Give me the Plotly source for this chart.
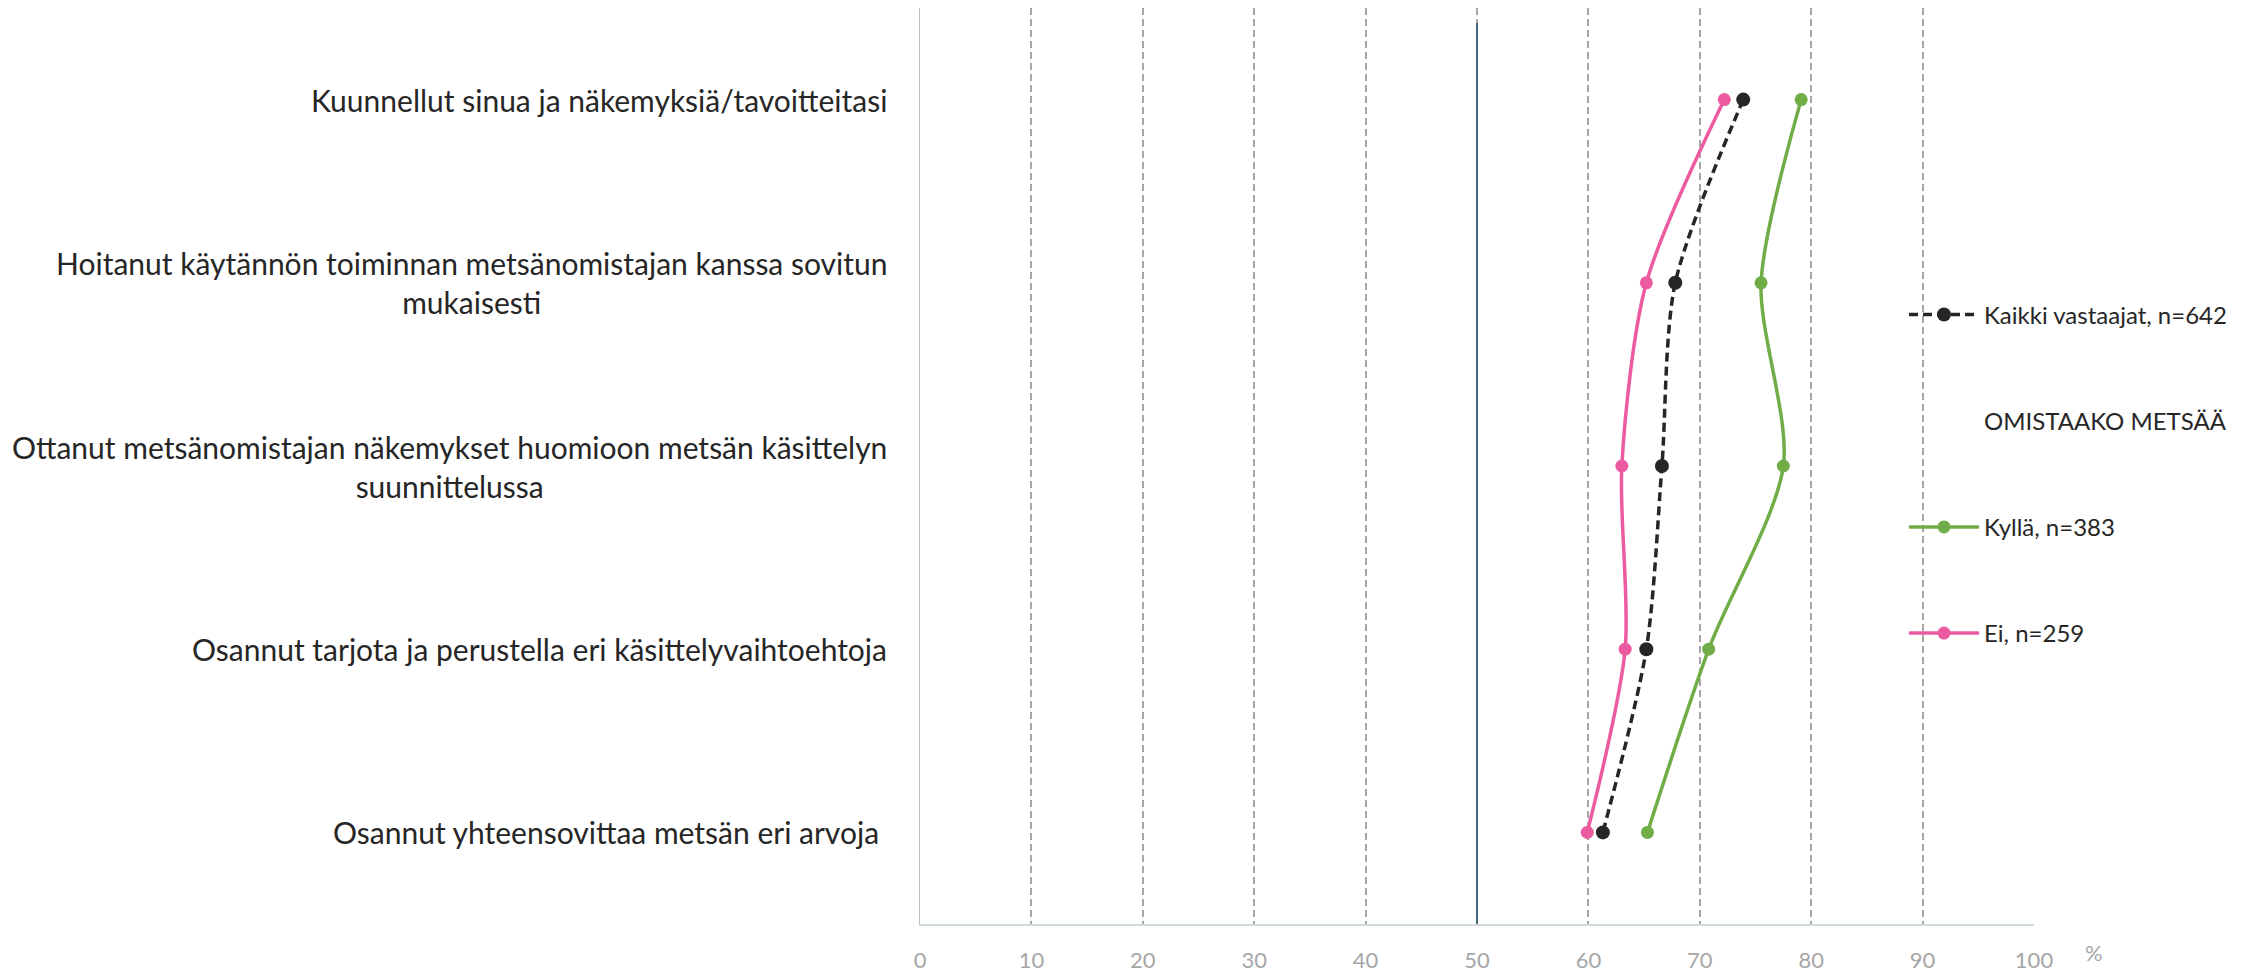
import plotly.graph_objects as go

categories = [
    "Kuunnellut sinua ja näkemyksiä/tavoitteitasi",
    "Hoitanut käytännön toiminnan metsänomistajan kanssa sovitun\nmukaisesti",
    "Ottanut metsänomistajan näkemykset huomioon metsän käsittelyn\nsuunnittelussa",
    "Osannut tarjota ja perustella eri käsittelyvaihtoehtoja",
    "Osannut yhteensovittaa metsän eri arvoja ",
]
kaikki = [73.9, 67.8, 66.6, 65.2, 61.3]
kylla = [79.1, 75.5, 77.5, 70.8, 65.3]
ei = [72.2, 65.2, 63.0, 63.3, 59.9]
x_ticks = [0, 10, 20, 30, 40, 50, 60, 70, 80, 90, 100]

series_names = ["Kaikki vastaajat, n=642", "Kyllä, n=383", "Ei, n=259"]
group_title = "OMISTAAKO METSÄÄ"

cat_keys = [c.replace("\n", " ") for c in categories]

FONT = "Lato"
OFF = 8  # page body margin
W, H = 2265 - OFF, 973 - OFF
L, R, T, B = 920 - OFF, W - (2034 - OFF), 0, H - (926 - OFF)
PW, PH = W - L - R, H - T - B

fig = go.Figure()

fig.add_trace(go.Scatter(
    x=kaikki, y=cat_keys, name=series_names[0], mode="lines+markers",
    line=dict(color="#262626", width=3.5, dash="9px,5px", shape="spline", smoothing=0.8),
    marker=dict(color="#262626", size=14), legendgroup="g1", legendrank=1,
))
fig.add_trace(go.Scatter(
    x=[None], y=[None], name=group_title, mode="lines",
    line=dict(color="rgba(0,0,0,0)", width=0), legendgroup="g2", legendrank=2,
    hoverinfo="skip",
))
fig.add_trace(go.Scatter(
    x=kylla, y=cat_keys, name=series_names[1], mode="lines+markers",
    line=dict(color="#70AD47", width=3.5, shape="spline", smoothing=0.8),
    marker=dict(color="#70AD47", size=13), legendgroup="g3", legendrank=3,
))
fig.add_trace(go.Scatter(
    x=ei, y=cat_keys, name=series_names[2], mode="lines+markers",
    line=dict(color="#EC5BA0", width=3.5, shape="spline", smoothing=0.8),
    marker=dict(color="#EC5BA0", size=13), legendgroup="g4", legendrank=4,
))

# vertical reference line at 50
fig.add_shape(type="line", xref="x", yref="paper", x0=50, x1=50, y0=0,
              y1=(926 - 23) / PH, line=dict(color="#44687A", width=2))

# category labels (centered lines, right-aligned block)
for key, lab in zip(cat_keys, categories):
    fig.add_annotation(
        xref="paper", yref="y", x=0, y=key, xanchor="right", yanchor="middle",
        xshift=-31, align="center", showarrow=False,
        text=lab.replace("\n", "<br>"),
        font=dict(family=FONT, size=30, color="#262626"),
    )

fig.add_annotation(
    xref="paper", yref="paper", x=1, y=0, xanchor="center", yanchor="middle",
    xshift=2094 - 2034, yshift=-(954 - 926), text="%", showarrow=False,
    font=dict(family=FONT, size=22, color="#A6A6A6"),
)

fig.update_xaxes(
    range=[0, 100], tickvals=x_ticks, ticktext=[str(v) for v in x_ticks],
    showgrid=True, gridcolor="#A6A6A6", gridwidth=1.5, griddash="7px,4px",
    zeroline=False, showline=True, linecolor="#D0D9DB", linewidth=2,
    ticks="", tickfont=dict(family=FONT, size=22, color="#A6A6A6"),
    ticklabelstandoff=16, fixedrange=True,
)
fig.update_yaxes(
    categoryorder="array", categoryarray=cat_keys, range=[4.5, -0.5],
    showgrid=False, showticklabels=False, zeroline=False,
    showline=True, linecolor="#BFBFBF", linewidth=1, fixedrange=True,
)

fig.update_layout(
    width=W, height=H, autosize=False,
    margin=dict(l=L, r=R, t=T, b=B, pad=0),
    paper_bgcolor="white", plot_bgcolor="white",
    font=dict(family=FONT, color="#262626"),
    showlegend=True,
    legend=dict(
        x=(1904 - 920) / PW, xanchor="left",
        y=(926 - 293) / PH, yanchor="top",
        font=dict(family=FONT, size=24, color="#262626"),
        tracegroupgap=72, traceorder="grouped", bgcolor="rgba(0,0,0,0)",
        itemwidth=70,
    ),
)

fig.write_html("out.html")
